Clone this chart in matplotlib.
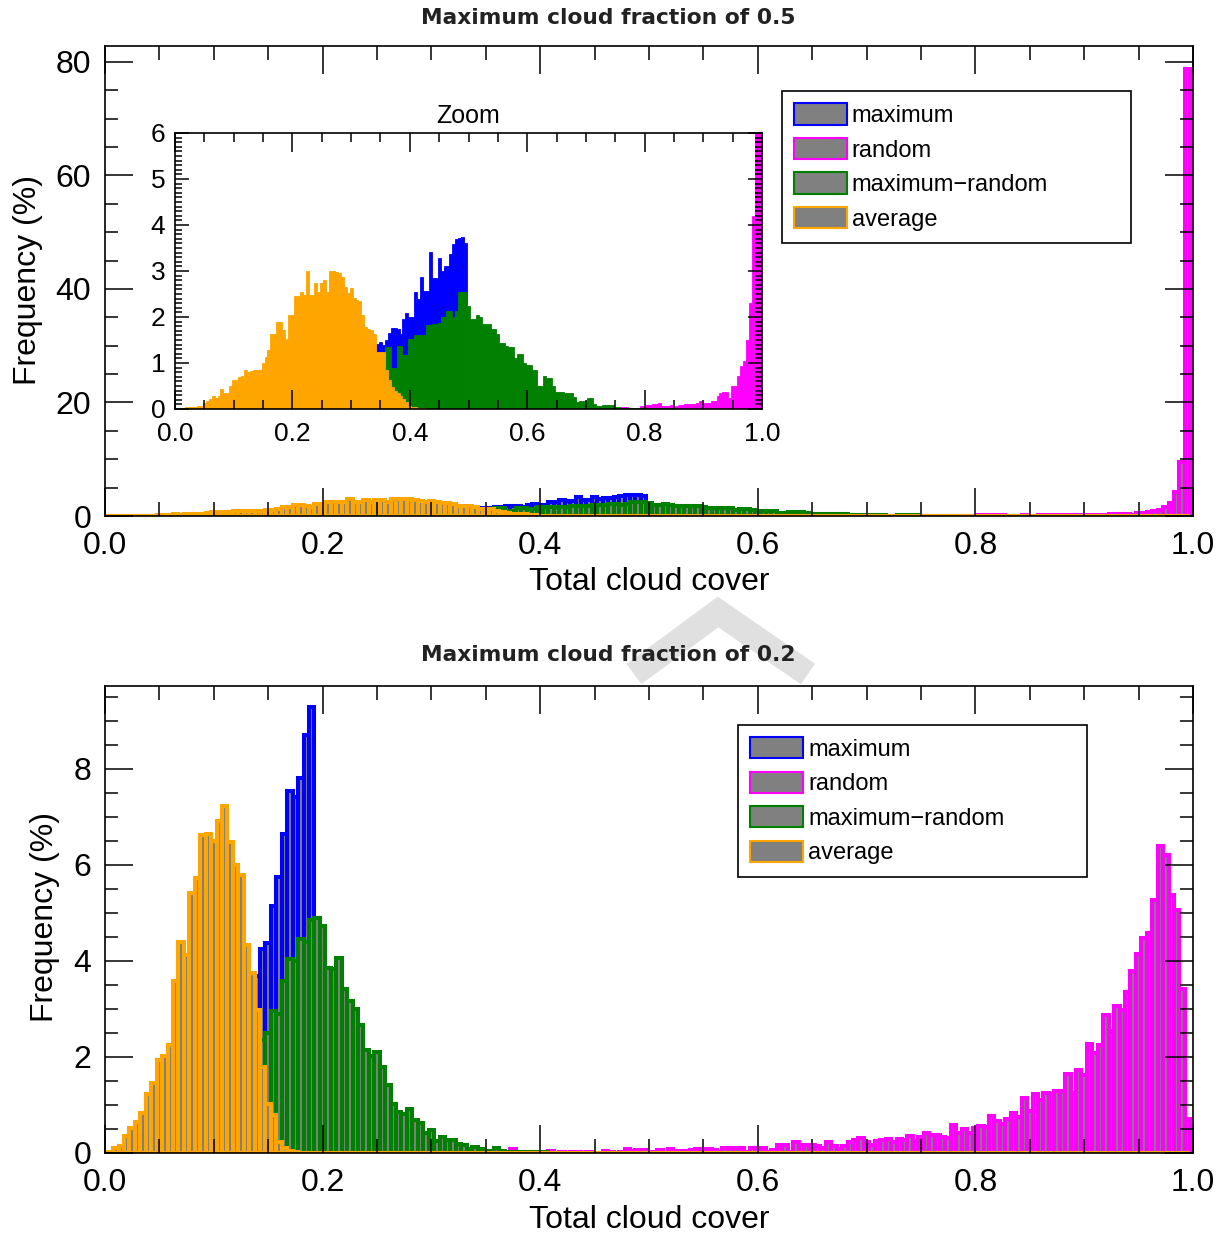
import numpy as np
import matplotlib
matplotlib.use("Agg")
import matplotlib.pyplot as plt
from matplotlib.patches import Patch
from matplotlib.lines import Line2D
from matplotlib.ticker import MultipleLocator, FormatStrFormatter

plt.rcParams['font.family'] = ['Liberation Sans', 'DejaVu Sans']

# ---------------- data ----------------
BIN_WIDTH = 0.005
N_BINS = 200
series_names = ['maximum', 'random', 'maximum\u2212random', 'average']
series_colors = ['#0000ff', '#ff00ff', '#008000', '#ffa500']

# Top panel (maximum cloud fraction 0.5): first bin index + frequencies (%)
top_maximum_start = 67
top_maximum = [0.6, 1.0, 1.42, 1.45, 1.40, 1.50, 1.66, 1.77, 1.77, 1.73, 1.62, 1.95, 2.09,
               2.00, 2.00, 2.55, 2.39, 2.88, 2.57, 2.57, 3.42, 2.84, 2.84, 3.28, 3.00, 3.10,
               3.10, 3.37, 3.59, 3.69, 3.72, 3.74, 3.61]
top_random_start = 130
top_random = [0.01, 0.0, 0.01, 0.01, 0.0, 0.01, 0.01, 0.01, 0.02, 0.01,
              0.02, 0.01, 0.02, 0.02, 0.01, 0.02, 0.02, 0.03, 0.02, 0.03, 0.03, 0.03, 0.04,
              0.05, 0.05, 0.03, 0.03, 0.03, 0.03, 0.06, 0.06, 0.09, 0.09, 0.11, 0.11, 0.12,
              0.06, 0.06, 0.06, 0.09, 0.06, 0.06, 0.09, 0.09, 0.11, 0.11, 0.11, 0.11, 0.13,
              0.17, 0.13, 0.13, 0.13, 0.17, 0.17, 0.29, 0.34, 0.36, 0.36, 0.23, 0.49, 0.49,
              0.71, 0.93, 1.04, 1.5, 2.3, 4.2, 9.5, 78.8]
top_maxrand_start = 68
top_maxrand = [0.4, 0.7, 0.9, 1.1, 1.35, 1.35, 0.89, 0.89, 1.38, 1.38, 1.18, 1.18, 1.53,
               1.53, 1.60, 1.60, 1.60, 1.60, 1.82, 1.82, 1.84, 1.84, 1.88, 2.0, 2.0, 2.13,
               2.13, 2.0, 2.13, 2.55, 2.55, 2.55, 2.23, 1.95, 1.95, 2.04, 2.0, 1.84, 1.84,
               1.84, 1.74, 1.74, 1.64, 1.44, 1.44, 1.36, 1.35, 1.35, 1.11, 1.2, 1.2, 1.0,
               0.96, 0.96, 0.85, 0.85, 0.49, 0.49, 0.71, 0.67, 0.67, 0.49, 0.36, 0.36, 0.36,
               0.34, 0.34, 0.34, 0.27, 0.16, 0.18, 0.18, 0.18, 0.23, 0.23, 0.11, 0.07, 0.07,
               0.09, 0.09, 0.09, 0.09, 0.05, 0.05, 0.03, 0.03, 0.03, 0.03, 0.03, 0.03, 0.03,
               0.03, 0.03, 0.02, 0.02, 0.02, 0.02, 0.02, 0.02, 0.02, 0.02, 0.02, 0.02]
top_average_start = 4
top_average = [0.04, 0.04, 0.04, 0.04, 0.06, 0.06, 0.13, 0.17, 0.22, 0.29, 0.24, 0.29, 0.44,
               0.34, 0.35, 0.51, 0.62, 0.62, 0.69, 0.71, 0.84, 0.81, 0.82, 0.84, 0.84, 0.84,
               1.00, 1.12, 1.29, 1.64, 1.64, 1.89, 1.90, 1.72, 1.53, 2.04, 2.04, 2.45, 2.45,
               2.55, 2.48, 3.00, 2.48, 2.48, 2.74, 2.55, 2.74, 2.81, 2.55, 3.00, 3.00, 2.97,
               2.96, 2.88, 2.66, 2.52, 2.63, 2.41, 2.37, 2.34, 2.04, 1.79, 1.75, 1.72, 1.64,
               1.24, 1.24, 1.24, 0.84, 0.62, 0.47, 0.40, 0.35, 0.29, 0.22, 0.15, 0.07, 0.05,
               0.05, 0.03, 0.02, 0.02]

# Bottom panel (maximum cloud fraction 0.2)
bot_maximum_start = 25
bot_maximum = [0.3, 0.8, 2.6, 3.68, 4.24, 4.38, 5.14, 5.75, 6.63, 7.54, 7.40, 7.81, 8.71, 9.28]
bot_random_start = 75
bot_random = [0.08, 0.01, 0.01, 0.02, 0.02, 0.01, 0.02, 0.04, 0.01, 0.02, 0.01, 0.03, 0.03,
              0.01, 0.02, 0.01, 0.01, 0.05, 0.03, 0.01, 0.03, 0.08, 0.05, 0.07, 0.07, 0.03,
              0.03, 0.07, 0.01, 0.09, 0.04, 0.05, 0.05, 0.06, 0.09, 0.03, 0.08, 0.06, 0.03,
              0.10, 0.11, 0.11, 0.11, 0.03, 0.10, 0.06, 0.10, 0.02, 0.06, 0.17, 0.17, 0.03,
              0.23, 0.16, 0.16, 0.17, 0.15, 0.11, 0.23, 0.14, 0.09, 0.14, 0.23, 0.27, 0.32,
              0.22, 0.16, 0.25, 0.27, 0.30, 0.22, 0.30, 0.27, 0.35, 0.24, 0.34, 0.42, 0.37,
              0.37, 0.34, 0.32, 0.59, 0.42, 0.49, 0.42, 0.51, 0.56, 0.55, 0.77, 0.66, 0.61,
              0.70, 0.84, 0.75, 1.15, 0.87, 1.23, 1.11, 1.25, 1.23, 1.29, 1.30, 1.65, 1.25,
              1.73, 1.63, 2.27, 2.08, 2.25, 2.88, 2.53, 3.05, 2.98, 3.36, 3.78, 4.15, 4.48,
              4.57, 5.27, 6.38, 6.20, 5.38, 5.06, 3.41, 0.71]
bot_maxrand_start = 25
bot_maxrand = [0.15, 0.4, 0.9, 1.6, 2.36, 2.49, 2.95, 2.90, 3.59, 4.04, 4.00, 4.45, 4.40,
               4.86, 4.90, 4.73, 3.86, 3.82, 4.06, 3.41, 3.17, 3.00, 2.67, 2.15, 2.02, 2.11,
               1.79, 1.42, 1.02, 0.86, 0.81, 0.91, 0.68, 0.63, 0.41, 0.48, 0.26, 0.33, 0.28,
               0.28, 0.18, 0.17, 0.08, 0.12, 0.08, 0.03, 0.05, 0.10, 0.04, 0.03, 0.03, 0.03,
               0.02, 0.02, 0.02, 0.01, 0.02, 0.01, 0.01, 0.01]
bot_average_start = 1
bot_average = [0.03, 0.10, 0.15, 0.35, 0.52, 0.65, 0.84, 1.23, 1.46, 1.93, 2.01, 2.25, 3.58,
               4.40, 4.12, 5.42, 5.73, 6.61, 6.63, 6.49, 6.90, 7.23, 6.48, 6.00, 5.78, 4.33,
               3.75, 2.98, 1.78, 1.02, 0.80, 0.23, 0.11, 0.05, 0.02]


def full(start, vals):
    arr = np.zeros(N_BINS)
    arr[start:start + len(vals)] = vals
    return arr


bin_centers = np.arange(N_BINS) * BIN_WIDTH
top_data = [full(top_maximum_start, top_maximum), full(top_random_start, top_random),
            full(top_maxrand_start, top_maxrand), full(top_average_start, top_average)]
bot_data = [full(bot_maximum_start, bot_maximum), full(bot_random_start, bot_random),
            full(bot_maxrand_start, bot_maxrand), full(bot_average_start, bot_average)]

# ---------------- layout ----------------
W, H = 1229, 1235
fig = plt.figure(figsize=(W / 100, H / 100), dpi=100)


def fx(px):
    return px / W


def fy(py):
    return 1 - py / H


ax_top = fig.add_axes([fx(105), fy(516), fx(1088), 470 / H])
ax_bot = fig.add_axes([fx(105), fy(1153), fx(1088), 467 / H])
ax_in = fig.add_axes([fx(175), fy(409), fx(587), 276 / H])

# watermark chevron
fig.add_artist(Line2D([fx(634), fx(718), fx(808)], [fy(674), fy(612), fy(674)],
                      transform=fig.transFigure, color='#e0e0e0', lw=18,
                      solid_joinstyle='miter', solid_capstyle='butt', zorder=0))


def draw_hists(ax, data, lw, solid=False):
    for vals, color in zip(data, series_colors):
        ax.bar(bin_centers, vals, width=BIN_WIDTH, align='center',
               facecolor=color if solid else '#808080', edgecolor=color,
               linewidth=lw)


def style_axis(ax, ymaj, ymin, xlen, ylen, lsize, pad):
    ax.set_xlim(0, 1)
    ax.xaxis.set_major_locator(MultipleLocator(0.2))
    ax.xaxis.set_minor_locator(MultipleLocator(0.05))
    ax.xaxis.set_major_formatter(FormatStrFormatter('%.1f'))
    ax.yaxis.set_major_locator(MultipleLocator(ymaj))
    ax.yaxis.set_minor_locator(MultipleLocator(ymin))
    ax.tick_params(which='both', direction='in', top=True, right=True, width=1.1,
                   labelsize=lsize)
    ax.tick_params(axis='x', which='major', length=xlen[0], pad=pad[0])
    ax.tick_params(axis='x', which='minor', length=xlen[1])
    ax.tick_params(axis='y', which='major', length=ylen[0], pad=pad[1])
    ax.tick_params(axis='y', which='minor', length=ylen[1])
    for s in ax.spines.values():
        s.set_linewidth(1.2)


def add_legend(ax, x0, ytop):
    handles = [Patch(facecolor='#808080', edgecolor=c, linewidth=1.5) for c in series_colors]
    leg = ax.legend(handles, series_names, loc='upper left',
                    bbox_to_anchor=(x0, 0, 0.3208, ytop), mode='expand',
                    borderaxespad=0, fancybox=False, edgecolor='black', framealpha=1,
                    fontsize=17, handlelength=2.25, handleheight=1.0, handletextpad=0.2,
                    labelspacing=0.46, borderpad=0.52)
    leg.get_frame().set_linewidth(1.2)


# top panel
draw_hists(ax_top, top_data, 2.9)
style_axis(ax_top, 20, 5, (20, 10), (20, 9.5), 23, (10.5, 10))
ax_top.set_ylim(0, 82.8)
ax_top.set_xlabel('Total cloud cover', fontsize=23)
ax_top.set_ylabel('Frequency (%)', fontsize=23)
ax_top.xaxis.set_label_coords(0.5, -0.108)
ax_top.yaxis.set_label_coords(-0.057, 0.502)
add_legend(ax_top, 0.622, 0.904)

# inset
ax_in.set_facecolor('white')
draw_hists(ax_in, top_data, 0.6, solid=True)
style_axis(ax_in, 1, 0.1, (13.7, 6.5), (10, 5), 19, (9.5, 7))
ax_in.set_ylim(0, 6)
ax_in.set_title('Zoom', fontsize=18, pad=7)

# bottom panel
draw_hists(ax_bot, bot_data, 2.9)
style_axis(ax_bot, 2, 0.5, (20, 10), (20, 9.5), 23, (10.5, 10))
ax_bot.set_ylim(0, 9.72)
ax_bot.set_xlabel('Total cloud cover', fontsize=23)
ax_bot.set_ylabel('Frequency (%)', fontsize=23)
ax_bot.xaxis.set_label_coords(0.5, -0.111)
ax_bot.yaxis.set_label_coords(-0.0414, 0.505)
add_legend(ax_bot, 0.5818, 0.9165)

# titles
fig.text(fx(608), fy(18), 'Maximum cloud fraction of 0.5', ha='center', va='center',
         fontsize=15.7, fontweight='bold', family='DejaVu Sans', color='#222222')
fig.text(fx(608), fy(655), 'Maximum cloud fraction of 0.2', ha='center', va='center',
         fontsize=15.7, fontweight='bold', family='DejaVu Sans', color='#222222')

fig.savefig('out.png', dpi=100)
